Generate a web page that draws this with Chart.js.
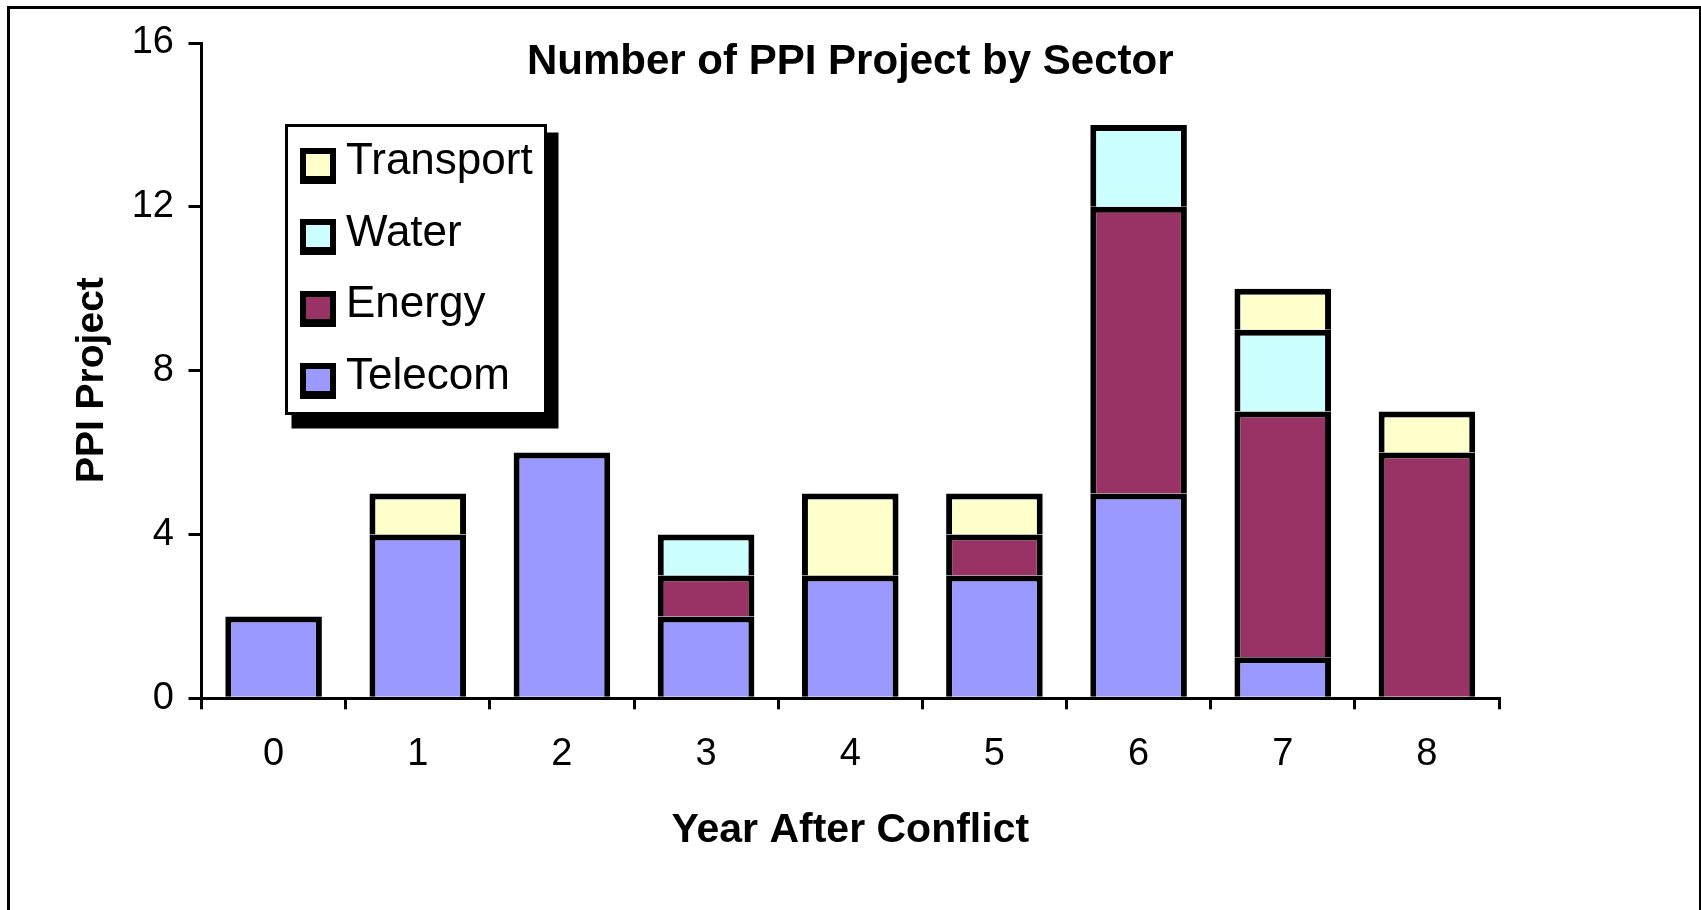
<!DOCTYPE html>
<html>
<head>
<meta charset="utf-8">
<script src="https://cdn.jsdelivr.net/npm/chart.js@4.4.1/dist/chart.umd.min.js"></script>
<style>
html,body{margin:0;padding:0;background:#fff;}
#wrap{position:relative;width:1701px;height:910px;overflow:hidden;background:#fff;}
#cv{position:absolute;left:0;top:0;width:1701px;height:910px;}
#frame{position:absolute;left:7px;top:6px;width:1694px;height:920px;box-sizing:border-box;border-top:3px solid #000;border-left:3px solid #000;border-right:2px solid #000;pointer-events:none;}
#legend{position:absolute;left:285px;top:124px;width:262px;height:291px;box-sizing:border-box;border:3px solid #000;background:#fff;box-shadow:9px 11px 0 2.5px #000;font-family:"Liberation Sans",Arial,sans-serif;}
.sw{position:absolute;left:12px;width:24px;height:22px;border-style:solid;border-color:#000;border-width:6px 6px 8px 6px;}
.lb{position:absolute;left:58px;font-size:44px;line-height:44px;white-space:nowrap;color:#000;}
</style>
</head>
<body>
<div id="wrap">
  <div id="cv"><canvas id="chart"></canvas></div>
  <div id="frame"></div>
  <div id="legend"></div>
</div>
<script>
// ---- data ----
const categories = ['0', '1', '2', '3', '4', '5', '6', '7', '8'];
const telecom   = [2, 4, 6, 2, 3, 3, 5, 1, 0];
const energy    = [0, 0, 0, 1, 0, 1, 7, 6, 6];
const water     = [0, 0, 0, 1, 0, 0, 2, 2, 0];
const transport = [0, 1, 0, 0, 2, 1, 0, 1, 1];
const yTicks = [0, 4, 8, 12, 16];
const seriesNames = ['Telecom', 'Energy', 'Water', 'Transport'];
const seriesColors = ['#9999FF', '#993366', '#CCFFFF', '#FFFFCC'];
const chartTitle = 'Number of PPI Project by Sector';
const xTitle = 'Year After Conflict';
const yTitle = 'PPI Project';

const seriesData = [telecom, energy, water, transport];

// ---- layout constants ----
const AREA_LEFT = 201.5, AREA_RIGHT = 1499, AREA_TOP = 43, AREA_BOTTOM = 698.3;
const FONT = '"Liberation Sans", Arial, sans-serif';

Chart.defaults.font.family = FONT;
Chart.defaults.color = '#000';

const yTitlePlugin = {
  id: 'yTitleDraw',
  afterDraw(chart) {
    const {ctx, chartArea} = chart;
    ctx.save();
    ctx.translate(92, (chartArea.top + chartArea.bottom) / 2 + 9.5);
    ctx.rotate(-Math.PI / 2);
    ctx.font = 'bold 39px ' + FONT;
    ctx.fillStyle = '#000';
    ctx.textAlign = 'center';
    ctx.textBaseline = 'middle';
    ctx.fillText(yTitle, 0, 0);
    ctx.restore();
  }
};

const chart = new Chart(document.getElementById('chart'), {
  type: 'bar',
  data: {
    labels: categories,
    datasets: seriesNames.map((name, k) => ({
      label: name,
      data: seriesData[k],
      backgroundColor: seriesColors[k],
      borderColor: '#000',
      borderWidth: 6,
      borderSkipped: 'start',
      categoryPercentage: 1,
      barPercentage: 0.67
    }))
  },
  options: {
    responsive: true,
    maintainAspectRatio: false,
    devicePixelRatio: 1,
    animation: false,
    layout: {padding: {left: 0, top: 0, right: 1701 - AREA_RIGHT, bottom: 0}},
    plugins: {
      legend: {display: false},
      tooltip: {enabled: false},
      title: {
        display: true,
        text: chartTitle,
        fullSize: false,
        color: '#000',
        font: {size: 42, weight: 'bold'},
        padding: {top: 37, bottom: AREA_TOP - 37 - 50.4}
      }
    },
    scales: {
      x: {
        stacked: true,
        afterFit: s => { s.height = s.chart.height - AREA_BOTTOM; },
        grid: {display: true, drawOnChartArea: false, drawTicks: true, offset: true,
               tickLength: 11, tickWidth: 3, tickColor: '#000', color: '#000', lineWidth: 3},
        border: {display: true, color: '#000', width: 3, z: 1},
        ticks: {color: '#000', font: {size: 38}, padding: 22, maxRotation: 0, autoSkip: false},
        title: {display: true, text: xTitle, color: '#000', font: {size: 41, weight: 'bold'},
                padding: {top: 0, bottom: 55}}
      },
      y: {
        stacked: true,
        min: 0,
        max: 16,
        afterFit: s => { s.width = AREA_LEFT; },
        afterBuildTicks: s => { s.ticks = yTicks.map(v => ({value: v})); },
        grid: {display: true, drawOnChartArea: false, drawTicks: true,
               tickLength: 13, tickWidth: 3, tickColor: '#000', color: '#000', lineWidth: 3},
        border: {display: true, color: '#000', width: 3},
        ticks: {color: '#000', font: {size: 38}, padding: 14.5}
      }
    }
  },
  plugins: [yTitlePlugin]
});

// ---- HTML legend built from the chart's datasets (reverse stacking order) ----
const legendEl = document.getElementById('legend');
const ds = chart.data.datasets.slice().reverse();
ds.forEach((d, i) => {
  const sw = document.createElement('span');
  sw.className = 'sw';
  sw.style.top = (20.7 + 71.6 * i) + 'px';
  sw.style.background = d.backgroundColor;
  const lb = document.createElement('span');
  lb.className = 'lb';
  lb.style.top = (10 + 71.6 * i) + 'px';
  lb.textContent = d.label;
  legendEl.appendChild(sw);
  legendEl.appendChild(lb);
});
</script>
</body>
</html>
